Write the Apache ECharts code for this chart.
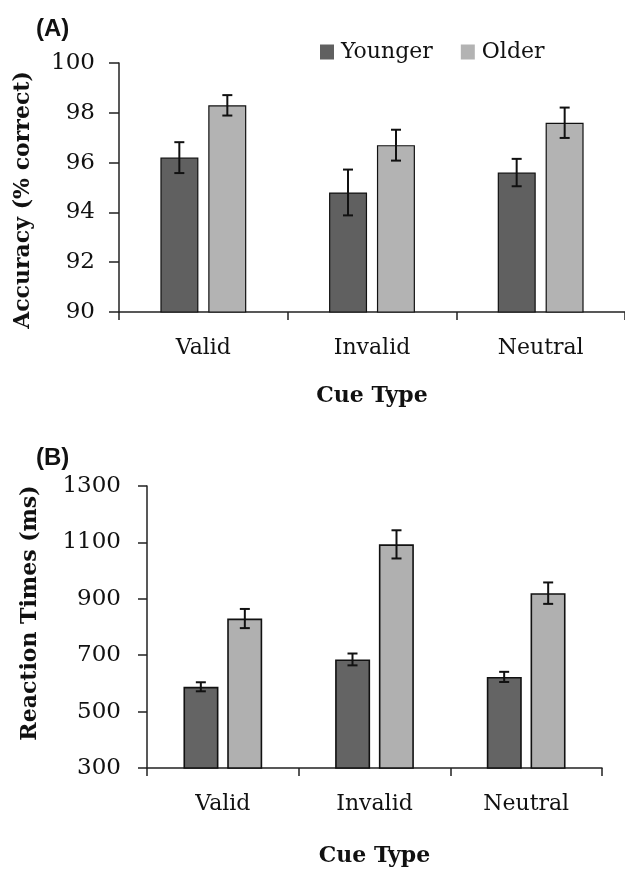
<!DOCTYPE html>
<html>
<head>
<meta charset="utf-8">
<script src="https://cdn.jsdelivr.net/npm/echarts@6/dist/echarts.min.js"></script>
<style>
html,body{margin:0;padding:0;background:#fff;}
#chart{width:625px;height:871px;}
</style>
</head>
<body>
<div id="chart"></div>
<script>
// ---- Data ----
const categories = ['Valid', 'Invalid', 'Neutral'];
const seriesNames = ['Younger', 'Older'];
// Panel A: accuracy (% correct)
const accYounger = [96.2, 94.8, 95.6];
const accYoungerErr = [0.62, 0.92, 0.55];
const accOlder = [98.3, 96.7, 97.6];
const accOlderErr = [0.41, 0.62, 0.61];
const accTicks = [90, 92, 94, 96, 98, 100];
// Panel B: reaction times (ms)
const rtYounger = [588, 685, 623];
const rtYoungerErr = [16, 21, 18];
const rtOlder = [830, 1093, 920];
const rtOlderErr = [34, 50, 38];
const rtTicks = [300, 500, 700, 900, 1100, 1300];

// ---- Styles ----
const SERIF = '"DejaVu Serif", serif';
const DARK = '#606060';
const LIGHT = '#b3b3b3';
const AXIS = '#222';

function errData(vals, errs) {
  return vals.map((v, i) => [i, v - errs[i], v + errs[i]]);
}
function errSeries(xi, vals, errs, offset) {
  return {
    type: 'custom',
    xAxisIndex: xi, yAxisIndex: xi,
    z: 10,
    silent: true,
    data: errData(vals, errs),
    renderItem: function (params, api) {
      const lo = api.coord([api.value(0), api.value(1)]);
      const hi = api.coord([api.value(0), api.value(2)]);
      const x = lo[0] + offset;
      const cap = 5;
      const st = { stroke: '#111', lineWidth: 2 };
      return {
        type: 'group',
        children: [
          { type: 'line', shape: { x1: x, y1: lo[1], x2: x, y2: hi[1] }, style: st },
          { type: 'line', shape: { x1: x - cap, y1: lo[1], x2: x + cap, y2: lo[1] }, style: st },
          { type: 'line', shape: { x1: x - cap, y1: hi[1], x2: x + cap, y2: hi[1] }, style: st }
        ]
      };
    }
  };
}

const catAxisCommon = {
  type: 'category',
  data: categories,
  boundaryGap: true,
  axisLine: { lineStyle: { color: AXIS, width: 1.5 } },
  axisTick: { show: true, interval: 0, length: 8, lineStyle: { color: AXIS, width: 1.5 } },
  axisLabel: { fontFamily: SERIF, fontSize: 22, color: '#111', interval: 0 },
  nameLocation: 'middle',
  nameTextStyle: { fontFamily: SERIF, fontSize: 22, fontWeight: 'bold', color: '#111' },
  name: 'Cue Type'
};

const yNameStyle = { fontFamily: SERIF, fontSize: 22, fontWeight: 'bold', fill: '#111', textAlign: 'center', textVerticalAlign: 'middle' };

const option = {
  animation: false,
  backgroundColor: '#fff',
  title: [
    { text: '(A)', left: 31, top: 12, textStyle: { fontFamily: '"Liberation Sans", Arial, sans-serif', fontSize: 24, fontWeight: 'bold', color: '#111' } },
    { text: '(B)', left: 31, top: 441, textStyle: { fontFamily: '"Liberation Sans", Arial, sans-serif', fontSize: 24, fontWeight: 'bold', color: '#111' } }
  ],
  graphic: [
    { type: 'text', x: 23, y: 200, rotation: Math.PI / 2, style: Object.assign({ text: 'Accuracy (% correct)' }, yNameStyle) },
    { type: 'text', x: 30, y: 613, rotation: Math.PI / 2, style: Object.assign({ text: 'Reaction Times (ms)' }, yNameStyle) }
  ],
  legend: {
    data: seriesNames,
    left: 315, top: 36,
    icon: 'rect',
    itemWidth: 14, itemHeight: 15,
    itemGap: 28,
    itemStyle: { borderWidth: 0 },
    textStyle: { fontFamily: SERIF, fontSize: 22, color: '#111', padding: [0, 0, 0, 2] }
  },
  grid: [
    { left: 119, top: 63, width: 506, height: 249, containLabel: false },
    { left: 147, top: 486, width: 455, height: 282, containLabel: false }
  ],
  xAxis: [
    Object.assign({}, catAxisCommon, { gridIndex: 0, nameGap: 73, axisLabel: Object.assign({}, catAxisCommon.axisLabel, { margin: 25 }) }),
    Object.assign({}, catAxisCommon, { gridIndex: 1, nameGap: 77, axisLabel: Object.assign({}, catAxisCommon.axisLabel, { margin: 25 }) })
  ],
  yAxis: [
    {
      type: 'value', gridIndex: 0,
      min: accTicks[0], max: accTicks[accTicks.length - 1], interval: 2,
      axisLine: { show: true, lineStyle: { color: AXIS, width: 1.5 } },
      axisTick: { show: true, length: 10, lineStyle: { color: AXIS, width: 1.5 } },
      axisLabel: { fontFamily: SERIF, fontSize: 23, color: '#111', margin: 24, formatter: v => String(v) },
      splitLine: { show: false }
    },
    {
      type: 'value', gridIndex: 1,
      min: rtTicks[0], max: rtTicks[rtTicks.length - 1],
      axisLine: { show: true, lineStyle: { color: AXIS, width: 1.5 } },
      axisTick: { show: true, length: 9, customValues: rtTicks, lineStyle: { color: AXIS, width: 1.5 } },
      axisLabel: { fontFamily: SERIF, fontSize: 23, color: '#111', margin: 26, customValues: rtTicks, formatter: v => String(v) },
      splitLine: { show: false }
    }
  ],
  series: [
    { name: 'Younger', type: 'bar', xAxisIndex: 0, yAxisIndex: 0, data: accYounger, barWidth: 38, barGap: '26%',
      itemStyle: { color: DARK, borderColor: '#111', borderWidth: 1.2 } },
    { name: 'Older', type: 'bar', xAxisIndex: 0, yAxisIndex: 0, data: accOlder, barWidth: 38, barGap: '26%',
      itemStyle: { color: LIGHT, borderColor: '#111', borderWidth: 1.2 } },
    { name: 'Younger', type: 'bar', xAxisIndex: 1, yAxisIndex: 1, data: rtYounger, barWidth: 35, barGap: '25%',
      itemStyle: { color: '#646464', borderColor: '#111', borderWidth: 1.6 } },
    { name: 'Older', type: 'bar', xAxisIndex: 1, yAxisIndex: 1, data: rtOlder, barWidth: 35, barGap: '25%',
      itemStyle: { color: '#b0b0b0', borderColor: '#111', borderWidth: 1.6 } },
    errSeries(0, accYounger, accYoungerErr, -24),
    errSeries(0, accOlder, accOlderErr, 24),
    errSeries(1, rtYounger, rtYoungerErr, -22),
    errSeries(1, rtOlder, rtOlderErr, 22)
  ]
};

const chart = echarts.init(document.getElementById('chart'), null, { renderer: 'canvas' });
chart.setOption(option);
</script>
</body>
</html>
